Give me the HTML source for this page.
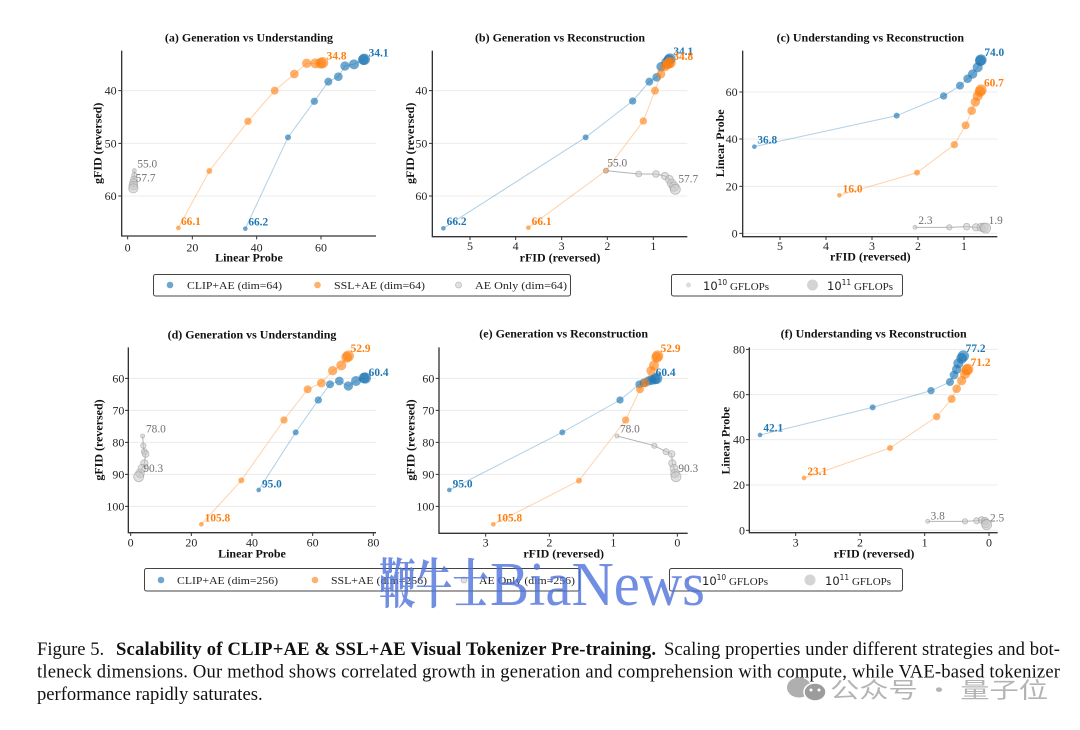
<!DOCTYPE html>
<html><head><meta charset="utf-8"><style>
html,body{margin:0;padding:0;background:#fff;}
svg{display:block;}
.gr{stroke:#ececec;stroke-width:3;fill:none}
.sp{stroke:#333;stroke-width:4;fill:none}
.tk{stroke:#333;stroke-width:3;fill:none}
.tl{font-size:36px;fill:#262626}
.ti{font-size:36px;font-weight:bold;fill:#111}
.lb{fill:none;stroke:#1f77b4;stroke-opacity:.35;stroke-width:3}
.lo{fill:none;stroke:#ff7f0e;stroke-opacity:.35;stroke-width:3}
.lg{fill:none;stroke:#808080;stroke-opacity:.6;stroke-width:3}
.b circle{fill:#1f77b4;fill-opacity:.65}
.o circle{fill:#ff7f0e;fill-opacity:.62}
.g circle{fill:#c8c8c8;fill-opacity:.55;stroke:#9a9a9a;stroke-opacity:.6;stroke-width:2.5}
.ab{fill:#1f77b4;font-weight:bold;font-size:34px}
.ao{fill:#ff7f0e;font-weight:bold;font-size:34px}
.ag{fill:#707070;font-size:34px}
.lt{font-size:11px;fill:#222}
</style></head><body>
<svg width="1080" height="730" viewBox="0 0 1080 730" xmlns="http://www.w3.org/2000/svg" font-family="'Liberation Serif', serif">
<rect width="1080" height="730" fill="#fff"/>

<!-- (a) -->
<g transform="translate(80,20) scale(0.33333)">
<path class="gr" d="M125 212H888M125 370H888M125 528H888"/>
<polyline class="lb" points="496,626 624,352 703,244 745,185 775,170 795,138 822,133 850,119 853,118"/>
<g class="b"><circle cx="496" cy="626" r="7"/><circle cx="624" cy="352" r="9"/><circle cx="703" cy="244" r="11"/><circle cx="745" cy="185" r="12"/><circle cx="775" cy="170" r="13"/><circle cx="795" cy="138" r="14"/><circle cx="822" cy="133" r="15"/><circle cx="850" cy="119" r="16"/><circle cx="853" cy="118" r="17"/></g>
<polyline class="lo" points="295,624 388,453 504,304 584,212 643,162 680,130 706,130 722,130 728,128"/>
<g class="o"><circle cx="295" cy="624" r="7"/><circle cx="388" cy="453" r="9"/><circle cx="504" cy="304" r="11"/><circle cx="584" cy="212" r="12"/><circle cx="643" cy="162" r="13"/><circle cx="680" cy="130" r="14"/><circle cx="706" cy="130" r="15"/><circle cx="722" cy="130" r="16"/><circle cx="728" cy="128" r="17"/></g>
<polyline class="lg" points="163,452 163,466 162,478 161,488 160,497 160,505"/>
<g class="g"><circle cx="163" cy="452" r="6"/><circle cx="163" cy="466" r="8"/><circle cx="162" cy="478" r="10"/><circle cx="161" cy="488" r="12"/><circle cx="160" cy="497" r="13"/><circle cx="160" cy="505" r="14"/></g>
<text class="ao" x="303" y="615">66.1</text><text class="ao" x="740" y="118">34.8</text>
<text class="ab" x="505" y="617">66.2</text><text class="ab" x="866" y="110">34.1</text>
<text class="ag" x="172" y="442">55.0</text><text class="ag" x="167" y="485">57.7</text>
<path class="sp" d="M125 92V648H888"/>
<path class="tk" d="M115 212H125M115 370H125M115 528H125M143 648V658M337 648V658M530 648V658M723 648V658"/>
<g class="tl" text-anchor="end"><text x="110" y="224">40</text><text x="110" y="382">50</text><text x="110" y="540">60</text></g>
<g class="tl" text-anchor="middle"><text x="143" y="695">0</text><text x="337" y="695">20</text><text x="530" y="695">40</text><text x="723" y="695">60</text></g>
<text class="ti" x="507" y="65" text-anchor="middle">(a) Generation vs Understanding</text>
<text class="ti" x="507" y="725" text-anchor="middle">Linear Probe</text>
<text class="ti" x="65" y="370" text-anchor="middle" transform="rotate(-90 65 370)">gFID (reversed)</text>
</g>

<!-- (b) -->
<g transform="translate(400,20) scale(0.33333)">
<path class="gr" d="M97 212H862M97 370H862M97 528H862"/>
<polyline class="lb" points="130,625 557,352 698,243 748,185 770,172 783,140 798,128 806,120 810,117"/>
<g class="b"><circle cx="130" cy="625" r="7"/><circle cx="557" cy="352" r="9"/><circle cx="698" cy="243" r="11"/><circle cx="748" cy="185" r="12"/><circle cx="770" cy="172" r="13"/><circle cx="783" cy="140" r="14"/><circle cx="798" cy="128" r="15"/><circle cx="806" cy="120" r="16"/><circle cx="810" cy="117" r="17"/></g>
<polyline class="lo" points="385,623 618,452 730,303 765,212 783,162 795,140 802,133 806,130 810,128"/>
<g class="o"><circle cx="385" cy="623" r="7"/><circle cx="618" cy="452" r="9"/><circle cx="730" cy="303" r="11"/><circle cx="765" cy="212" r="12"/><circle cx="783" cy="162" r="13"/><circle cx="795" cy="140" r="14"/><circle cx="802" cy="133" r="15"/><circle cx="806" cy="130" r="16"/><circle cx="810" cy="128" r="17"/></g>
<polyline class="lg" points="618,452 716,462 768,462 795,468 808,478 815,490 822,500 826,508"/>
<g class="g"><circle cx="618" cy="452" r="7"/><circle cx="716" cy="462" r="9"/><circle cx="768" cy="462" r="10"/><circle cx="795" cy="468" r="11"/><circle cx="808" cy="478" r="12"/><circle cx="815" cy="490" r="13"/><circle cx="822" cy="500" r="14"/><circle cx="826" cy="508" r="15"/></g>
<text class="ab" x="140" y="615">66.2</text><text class="ab" x="820" y="105">34.1</text>
<text class="ao" x="395" y="615">66.1</text><text class="ao" x="820" y="120">34.8</text>
<text class="ag" x="622" y="440">55.0</text><text class="ag" x="835" y="487">57.7</text>
<path class="sp" d="M97 92V650H862"/>
<path class="tk" d="M87 212H97M87 370H97M87 528H97M210 650V660M347 650V660M485 650V660M622 650V660M760 650V660"/>
<g class="tl" text-anchor="end"><text x="82" y="224">40</text><text x="82" y="382">50</text><text x="82" y="540">60</text></g>
<g class="tl" text-anchor="middle"><text x="210" y="690">5</text><text x="347" y="690">4</text><text x="485" y="690">3</text><text x="622" y="690">2</text><text x="760" y="690">1</text></g>
<text class="ti" x="480" y="65" text-anchor="middle">(b) Generation vs Reconstruction</text>
<text class="ti" x="480" y="725" text-anchor="middle">rFID (reversed)</text>
<text class="ti" x="42" y="370" text-anchor="middle" transform="rotate(-90 42 370)">gFID (reversed)</text>
</g>

<!-- (c) -->
<g transform="translate(700,20) scale(0.33333)">
<path class="gr" d="M128 216H892M128 357H892M128 499H892M128 640H892"/>
<polyline class="lb" points="163,380 590,287 731,228 780,197 803,176 818,162 833,142 841,122 843,120"/>
<g class="b"><circle cx="163" cy="380" r="7"/><circle cx="590" cy="287" r="9"/><circle cx="731" cy="228" r="11"/><circle cx="780" cy="197" r="12"/><circle cx="803" cy="176" r="13"/><circle cx="818" cy="162" r="14"/><circle cx="833" cy="142" r="15"/><circle cx="841" cy="122" r="16"/><circle cx="843" cy="120" r="17"/></g>
<polyline class="lo" points="418,526 651,458 763,374 797,316 815,272 826,246 833,228 840,215 843,210"/>
<g class="o"><circle cx="418" cy="526" r="7"/><circle cx="651" cy="458" r="9"/><circle cx="763" cy="374" r="11"/><circle cx="797" cy="316" r="12"/><circle cx="815" cy="272" r="13"/><circle cx="826" cy="246" r="14"/><circle cx="833" cy="228" r="15"/><circle cx="840" cy="215" r="16"/><circle cx="843" cy="210" r="17"/></g>
<polyline class="lg" points="645,622 748,622 800,620 828,622 843,622 852,622 857,624"/>
<g class="g"><circle cx="645" cy="622" r="6"/><circle cx="748" cy="622" r="8"/><circle cx="800" cy="620" r="10"/><circle cx="828" cy="622" r="11"/><circle cx="843" cy="622" r="12"/><circle cx="852" cy="622" r="13"/><circle cx="857" cy="624" r="15"/></g>
<text class="ab" x="172" y="370">36.8</text><text class="ab" x="853" y="108">74.0</text>
<text class="ao" x="428" y="517">16.0</text><text class="ao" x="852" y="200">60.7</text>
<text class="ag" x="655" y="612">2.3</text><text class="ag" x="866" y="612">1.9</text>
<path class="sp" d="M128 92V650H892"/>
<path class="tk" d="M118 216H128M118 357H128M118 499H128M118 640H128M240 650V660M378 650V660M516 650V660M654 650V660M792 650V660"/>
<g class="tl" text-anchor="end"><text x="113" y="228">60</text><text x="113" y="369">40</text><text x="113" y="511">20</text><text x="113" y="652">0</text></g>
<g class="tl" text-anchor="middle"><text x="240" y="690">5</text><text x="378" y="690">4</text><text x="516" y="690">3</text><text x="654" y="690">2</text><text x="792" y="690">1</text></g>
<text class="ti" x="511" y="65" text-anchor="middle">(c) Understanding vs Reconstruction</text>
<text class="ti" x="511" y="722" text-anchor="middle">rFID (reversed)</text>
<text class="ti" x="72" y="370" text-anchor="middle" transform="rotate(-90 72 370)">Linear Probe</text>
</g>

<!-- (d) -->
<g transform="translate(80,320) scale(0.33333)">
<path class="gr" d="M145 175H888M145 271H888M145 367H888M145 463H888M145 559H888"/>
<polyline class="lb" points="536,510 647,337 715,240 750,193 778,183 805,198 828,183 852,174 856,174"/>
<g class="b"><circle cx="536" cy="510" r="7"/><circle cx="647" cy="337" r="9"/><circle cx="715" cy="240" r="11"/><circle cx="750" cy="193" r="12"/><circle cx="778" cy="183" r="13"/><circle cx="805" cy="198" r="14"/><circle cx="828" cy="183" r="15"/><circle cx="852" cy="174" r="16"/><circle cx="856" cy="174" r="17"/></g>
<polyline class="lo" points="364,613 484,481 612,300 683,208 724,189 758,152 784,136 800,112 805,108"/>
<g class="o"><circle cx="364" cy="613" r="7"/><circle cx="484" cy="481" r="9"/><circle cx="612" cy="300" r="11"/><circle cx="683" cy="208" r="12"/><circle cx="724" cy="189" r="13"/><circle cx="758" cy="152" r="14"/><circle cx="784" cy="136" r="15"/><circle cx="800" cy="112" r="16"/><circle cx="805" cy="108" r="17"/></g>
<polyline class="lg" points="188,348 190,377 193,395 197,402 193,430 186,445 180,460 176,470"/>
<g class="g"><circle cx="188" cy="348" r="6"/><circle cx="190" cy="377" r="8"/><circle cx="193" cy="395" r="9"/><circle cx="197" cy="402" r="10"/><circle cx="193" cy="430" r="11"/><circle cx="186" cy="445" r="12"/><circle cx="180" cy="460" r="13"/><circle cx="176" cy="470" r="15"/></g>
<text class="ao" x="374" y="605">105.8</text><text class="ao" x="812" y="96">52.9</text>
<text class="ab" x="546" y="502">95.0</text><text class="ab" x="866" y="168">60.4</text>
<text class="ag" x="198" y="338">78.0</text><text class="ag" x="190" y="456">90.3</text>
<path class="sp" d="M145 82V638H888"/>
<path class="tk" d="M135 175H145M135 271H145M135 367H145M135 463H145M135 559H145M152 638V648M334 638V648M516 638V648M698 638V648M880 638V648"/>
<g class="tl" text-anchor="end"><text x="133" y="187">60</text><text x="133" y="283">70</text><text x="133" y="379">80</text><text x="133" y="475">90</text><text x="133" y="571">100</text></g>
<g class="tl" text-anchor="middle"><text x="152" y="680">0</text><text x="334" y="680">20</text><text x="516" y="680">40</text><text x="698" y="680">60</text><text x="880" y="680">80</text></g>
<text class="ti" x="516" y="55" text-anchor="middle">(d) Generation vs Understanding</text>
<text class="ti" x="516" y="712" text-anchor="middle">Linear Probe</text>
<text class="ti" x="68" y="360" text-anchor="middle" transform="rotate(-90 68 360)">gFID (reversed)</text>
</g>

<!-- (e) -->
<g transform="translate(390,320) scale(0.33333)">
<path class="gr" d="M147 175H893M147 271H893M147 367H893M147 463H893M147 559H893"/>
<polyline class="lb" points="178,510 517,337 690,240 748,193 762,188 775,183 785,180 795,177 800,175"/>
<g class="b"><circle cx="178" cy="510" r="7"/><circle cx="517" cy="337" r="9"/><circle cx="690" cy="240" r="11"/><circle cx="748" cy="193" r="12"/><circle cx="762" cy="188" r="13"/><circle cx="775" cy="183" r="14"/><circle cx="785" cy="180" r="15"/><circle cx="795" cy="177" r="16"/><circle cx="800" cy="175" r="17"/></g>
<polyline class="lo" points="310,613 567,482 707,300 750,208 765,189 783,152 792,136 800,112 803,108"/>
<g class="o"><circle cx="310" cy="613" r="7"/><circle cx="567" cy="482" r="9"/><circle cx="707" cy="300" r="11"/><circle cx="750" cy="208" r="12"/><circle cx="765" cy="189" r="13"/><circle cx="783" cy="152" r="14"/><circle cx="792" cy="136" r="15"/><circle cx="800" cy="112" r="16"/><circle cx="803" cy="108" r="17"/></g>
<polyline class="lg" points="681,348 793,377 828,395 845,402 847,430 852,445 855,460 858,470"/>
<g class="g"><circle cx="681" cy="348" r="6"/><circle cx="793" cy="377" r="8"/><circle cx="828" cy="395" r="9"/><circle cx="845" cy="402" r="10"/><circle cx="847" cy="430" r="11"/><circle cx="852" cy="445" r="12"/><circle cx="855" cy="460" r="13"/><circle cx="858" cy="470" r="15"/></g>
<text class="ab" x="188" y="502">95.0</text><text class="ab" x="797" y="168">60.4</text>
<text class="ao" x="320" y="605">105.8</text><text class="ao" x="812" y="96">52.9</text>
<text class="ag" x="690" y="338">78.0</text><text class="ag" x="865" y="456">90.3</text>
<path class="sp" d="M147 82V640H893"/>
<path class="tk" d="M137 175H147M137 271H147M137 367H147M137 463H147M137 559H147M287 640V650M478 640V650M670 640V650M862 640V650"/>
<g class="tl" text-anchor="end"><text x="133" y="187">60</text><text x="133" y="283">70</text><text x="133" y="379">80</text><text x="133" y="475">90</text><text x="133" y="571">100</text></g>
<g class="tl" text-anchor="middle"><text x="287" y="680">3</text><text x="478" y="680">2</text><text x="670" y="680">1</text><text x="862" y="680">0</text></g>
<text class="ti" x="521" y="53" text-anchor="middle">(e) Generation vs Reconstruction</text>
<text class="ti" x="521" y="712" text-anchor="middle">rFID (reversed)</text>
<text class="ti" x="73" y="360" text-anchor="middle" transform="rotate(-90 73 360)">gFID (reversed)</text>
</g>

<!-- (f) -->
<g transform="translate(700,320) scale(0.33333)">
<path class="gr" d="M148 88H893M148 224H893M148 359H893M148 495H893M148 631H893"/>
<polyline class="lb" points="180,345 518,262 693,212 750,186 762,165 770,148 775,130 785,115 790,108"/>
<g class="b"><circle cx="180" cy="345" r="7"/><circle cx="518" cy="262" r="9"/><circle cx="693" cy="212" r="11"/><circle cx="750" cy="186" r="12"/><circle cx="762" cy="165" r="13"/><circle cx="770" cy="148" r="14"/><circle cx="775" cy="130" r="15"/><circle cx="785" cy="115" r="16"/><circle cx="790" cy="108" r="17"/></g>
<polyline class="lo" points="312,474 570,384 710,290 755,237 770,206 785,182 795,162 800,150 803,148"/>
<g class="o"><circle cx="312" cy="474" r="7"/><circle cx="570" cy="384" r="9"/><circle cx="710" cy="290" r="11"/><circle cx="755" cy="237" r="12"/><circle cx="770" cy="206" r="13"/><circle cx="785" cy="182" r="14"/><circle cx="795" cy="162" r="15"/><circle cx="800" cy="150" r="16"/><circle cx="803" cy="148" r="17"/></g>
<polyline class="lg" points="683,604 795,604 830,602 845,600 855,603 858,610 860,614"/>
<g class="g"><circle cx="683" cy="604" r="6"/><circle cx="795" cy="604" r="8"/><circle cx="830" cy="602" r="9"/><circle cx="845" cy="600" r="10"/><circle cx="855" cy="603" r="11"/><circle cx="858" cy="610" r="13"/><circle cx="860" cy="614" r="15"/></g>
<text class="ab" x="190" y="335">42.1</text><text class="ab" x="797" y="96">77.2</text>
<text class="ao" x="322" y="465">23.1</text><text class="ao" x="812" y="138">71.2</text>
<text class="ag" x="692" y="598">3.8</text><text class="ag" x="870" y="604">2.5</text>
<path class="sp" d="M148 82V638H893"/>
<path class="tk" d="M138 88H148M138 224H148M138 359H148M138 495H148M138 631H148M287 638V648M480 638V648M674 638V648M867 638V648"/>
<g class="tl" text-anchor="end"><text x="135" y="100">80</text><text x="135" y="236">60</text><text x="135" y="371">40</text><text x="135" y="507">20</text><text x="135" y="643">0</text></g>
<g class="tl" text-anchor="middle"><text x="287" y="680">3</text><text x="480" y="680">2</text><text x="674" y="680">1</text><text x="867" y="680">0</text></g>
<text class="ti" x="521" y="52" text-anchor="middle">(f) Understanding vs Reconstruction</text>
<text class="ti" x="522" y="712" text-anchor="middle">rFID (reversed)</text>
<text class="ti" x="88" y="362" text-anchor="middle" transform="rotate(-90 88 362)">Linear Probe</text>
</g>

<!-- Legends top -->
<rect x="153.5" y="274.5" width="417" height="21.5" rx="2" fill="#fff" stroke="#444" stroke-width="1"/>
<circle cx="170" cy="285" r="3.3" fill="#1f77b4" fill-opacity=".65"/>
<text class="lt" x="187" y="289" textLength="95" lengthAdjust="spacingAndGlyphs">CLIP+AE (dim=64)</text>
<circle cx="317.5" cy="285" r="3.3" fill="#ff7f0e" fill-opacity=".62"/>
<text class="lt" x="334" y="289" textLength="91" lengthAdjust="spacingAndGlyphs">SSL+AE (dim=64)</text>
<circle cx="458.5" cy="285" r="3" fill="#c8c8c8" fill-opacity=".55" stroke="#9a9a9a" stroke-opacity=".6" stroke-width=".8"/>
<text class="lt" x="475" y="289" textLength="92" lengthAdjust="spacingAndGlyphs">AE Only (dim=64)</text>

<rect x="671.5" y="274.5" width="231" height="21.5" rx="2" fill="#fff" stroke="#444" stroke-width="1"/>
<circle cx="688.5" cy="285" r="2.5" fill="#dcdcdc"/>
<text x="703" y="290" fill="#222"><tspan font-family="'DejaVu Sans', sans-serif" font-size="11.5">10</tspan><tspan font-family="'DejaVu Sans', sans-serif" font-size="7.5" dy="-5">10</tspan><tspan font-size="11" dy="5"> GFLOPs</tspan></text>
<circle cx="812.5" cy="285" r="5.5" fill="#d4d4d4"/>
<text x="827" y="290" fill="#222"><tspan font-family="'DejaVu Sans', sans-serif" font-size="11.5">10</tspan><tspan font-family="'DejaVu Sans', sans-serif" font-size="7.5" dy="-5">11</tspan><tspan font-size="11" dy="5"> GFLOPs</tspan></text>

<!-- Legends bottom -->
<rect x="144.5" y="568.5" width="435" height="22.5" rx="2" fill="#fff" stroke="#444" stroke-width="1"/>
<circle cx="161" cy="580" r="3.3" fill="#1f77b4" fill-opacity=".65"/>
<text class="lt" x="177" y="584" textLength="101" lengthAdjust="spacingAndGlyphs">CLIP+AE (dim=256)</text>
<circle cx="315" cy="580" r="3.3" fill="#ff7f0e" fill-opacity=".62"/>
<text class="lt" x="331" y="584" textLength="96" lengthAdjust="spacingAndGlyphs">SSL+AE (dim=256)</text>
<circle cx="464" cy="580" r="3" fill="#c8c8c8" fill-opacity=".55" stroke="#9a9a9a" stroke-opacity=".6" stroke-width=".8"/>
<text class="lt" x="479" y="584" textLength="96" lengthAdjust="spacingAndGlyphs">AE Only (dim=256)</text>

<rect x="669.5" y="568.5" width="233" height="22.5" rx="2" fill="#fff" stroke="#444" stroke-width="1"/>
<circle cx="687" cy="580" r="2.5" fill="#dcdcdc"/>
<text x="702" y="585" fill="#222"><tspan font-family="'DejaVu Sans', sans-serif" font-size="11.5">10</tspan><tspan font-family="'DejaVu Sans', sans-serif" font-size="7.5" dy="-5">10</tspan><tspan font-size="11" dy="5"> GFLOPs</tspan></text>
<circle cx="810" cy="580" r="5.5" fill="#d4d4d4"/>
<text x="825" y="585" fill="#222"><tspan font-family="'DejaVu Sans', sans-serif" font-size="11.5">10</tspan><tspan font-family="'DejaVu Sans', sans-serif" font-size="7.5" dy="-5">11</tspan><tspan font-size="11" dy="5"> GFLOPs</tspan></text>

<!-- Watermark -->
<text x="379" y="603" font-family="'Liberation Serif','Noto Serif CJK SC',serif" font-size="54" font-weight="bold" fill="#4f72dc" fill-opacity=".8" textLength="110" lengthAdjust="spacingAndGlyphs">鞭牛士</text>
<text x="490" y="605" font-family="'Liberation Serif',serif" font-size="62" fill="#4f72dc" fill-opacity=".8" textLength="215" lengthAdjust="spacingAndGlyphs">BiaNews</text>

<!-- Caption -->
<g font-size="18.6" fill="#111">
<text x="37" y="655">Figure 5.</text>
<text x="116" y="655" font-weight="bold" textLength="540" lengthAdjust="spacing">Scalability of CLIP+AE &amp; SSL+AE Visual Tokenizer Pre-training.</text>
<text x="664" y="655" textLength="396" lengthAdjust="spacing">Scaling properties under different strategies and bot-</text>
<text x="37" y="677.5" textLength="1023" lengthAdjust="spacing">tleneck dimensions.  Our method shows correlated growth in generation and comprehension with compute, while VAE-based tokenizer</text>
<text x="37" y="700">performance rapidly saturates.</text>
</g>

<!-- WeChat watermark -->
<g>
<ellipse cx="799" cy="687.5" rx="12" ry="10" fill="#a6a6a6" fill-opacity=".9"/>
<ellipse cx="815" cy="692" rx="11" ry="9" fill="#9c9c9c" stroke="#fff" stroke-width="1.5"/>
<circle cx="811" cy="690" r="1.5" fill="#fff"/>
<circle cx="819" cy="690" r="1.5" fill="#fff"/>
</g>
<text x="830" y="698" font-family="'Noto Sans CJK SC','WenQuanYi Zen Hei',sans-serif" font-size="22" fill="#b4b4b4" textLength="218" lengthAdjust="spacingAndGlyphs">公众号 · 量子位</text>
</svg>
</body></html>
